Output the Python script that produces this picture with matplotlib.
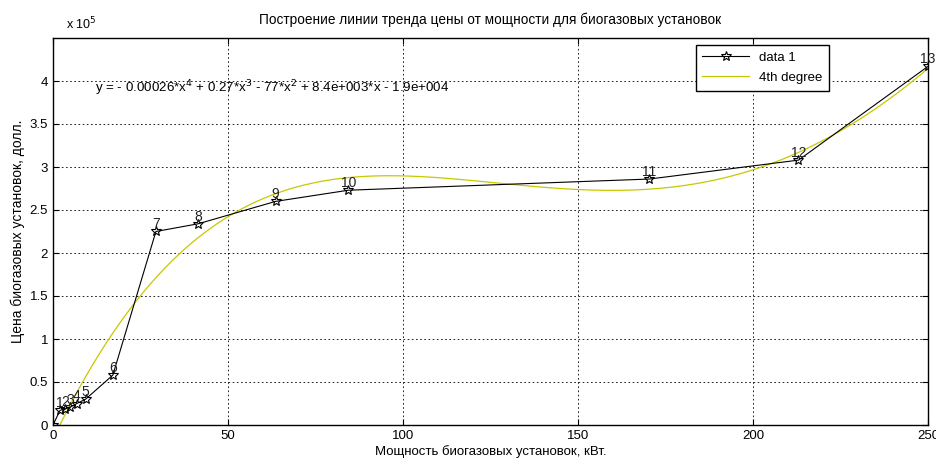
import numpy as np
import matplotlib
matplotlib.use("Agg")
import matplotlib.pyplot as plt

plt.rcParams['font.family'] = ['Liberation Sans', 'DejaVu Sans']

# Power of biogas plants, kW, and their price, USD
power_kw = [0, 2.0, 3.4, 5.0, 6.8, 9.3, 17.1, 29.4, 41.5, 63.6, 84.4, 170.4, 213.0, 250.0]
price_usd = [0, 17000, 18500, 21000, 25000, 30000, 58000, 225000, 234000, 260000,
             273000, 286000, 308000, 417000]
point_labels = ['', '1', '2', '3', '4', '5', '6', '7', '8', '9', '10', '11', '12', '13']

x_ticks = [0, 50, 100, 150, 200, 250]
y_ticks = [0, 50000, 100000, 150000, 200000, 250000, 300000, 350000, 400000]

title = 'Построение линии тренда цены от мощности для биогазовых установок'
xlabel = 'Мощность биогазовых установок, кВт.'
ylabel = 'Цена биогазовых установок, долл.'
equation = 'y = - 0.00026*x$^4$ + 0.27*x$^3$ - 77*x$^2$ + 8.4e+003*x - 1.9e+004'

fig = plt.figure(figsize=(9.37, 4.65), dpi=100)
ax = fig.add_axes([53 / 937, 1 - 425 / 465, 875 / 937, 387 / 465])

ax.plot(power_kw, price_usd, color='black', lw=0.8, marker='*', markersize=7,
        markerfacecolor='none', markeredgecolor='black', markeredgewidth=0.8,
        label='data 1', zorder=3)

# 4th degree polynomial trend line
coef = np.polyfit(power_kw, price_usd, 4)
xf = np.linspace(min(power_kw), max(power_kw), 400)
ax.plot(xf, np.polyval(coef, xf), color='#c8c800', lw=0.9, label='4th degree', zorder=2)

for px, py, lab in zip(power_kw, price_usd, point_labels):
    if lab:
        ax.annotate(lab, (px, py), xytext=(0, 0), textcoords='offset points',
                    ha='center', va='bottom', fontsize=10, color='#222222', zorder=4,
                    annotation_clip=False)

ax.text(12, 392000, equation, fontsize=9.6, va='center', ha='left')

ax.set_xlim(0, 250)
ax.set_ylim(0, 450000)
ax.set_xticks(x_ticks)
ax.set_xticklabels([f'{t:g}' for t in x_ticks])
ax.set_yticks(y_ticks)
ax.set_yticklabels([f'{t / 1e5:g}' for t in y_ticks])
ax.tick_params(direction='in', top=True, right=True, labelsize=9.5, length=4, width=0.8)
ax.grid(True, color='black', linestyle=(0, (2, 3)), lw=0.6)
for s in ax.spines.values():
    s.set_linewidth(1.0)

ax.text(0.015, 1.015, r'x 10$^5$', transform=ax.transAxes, fontsize=9, va='bottom', ha='left')
ax.set_title(title, fontsize=9.8, pad=10)
ax.set_xlabel(xlabel, fontsize=9.5, labelpad=2)
ax.set_ylabel(ylabel, fontsize=10, labelpad=3)

leg = ax.legend(loc='upper right', bbox_to_anchor=(0.887, 0.982), borderaxespad=0,
                fontsize=9.5, frameon=True, fancybox=False, edgecolor='black',
                framealpha=1, handlelength=3.5, borderpad=0.5, labelspacing=0.6)
leg.get_frame().set_linewidth(1.0)

fig.savefig('out.png', dpi=100)
